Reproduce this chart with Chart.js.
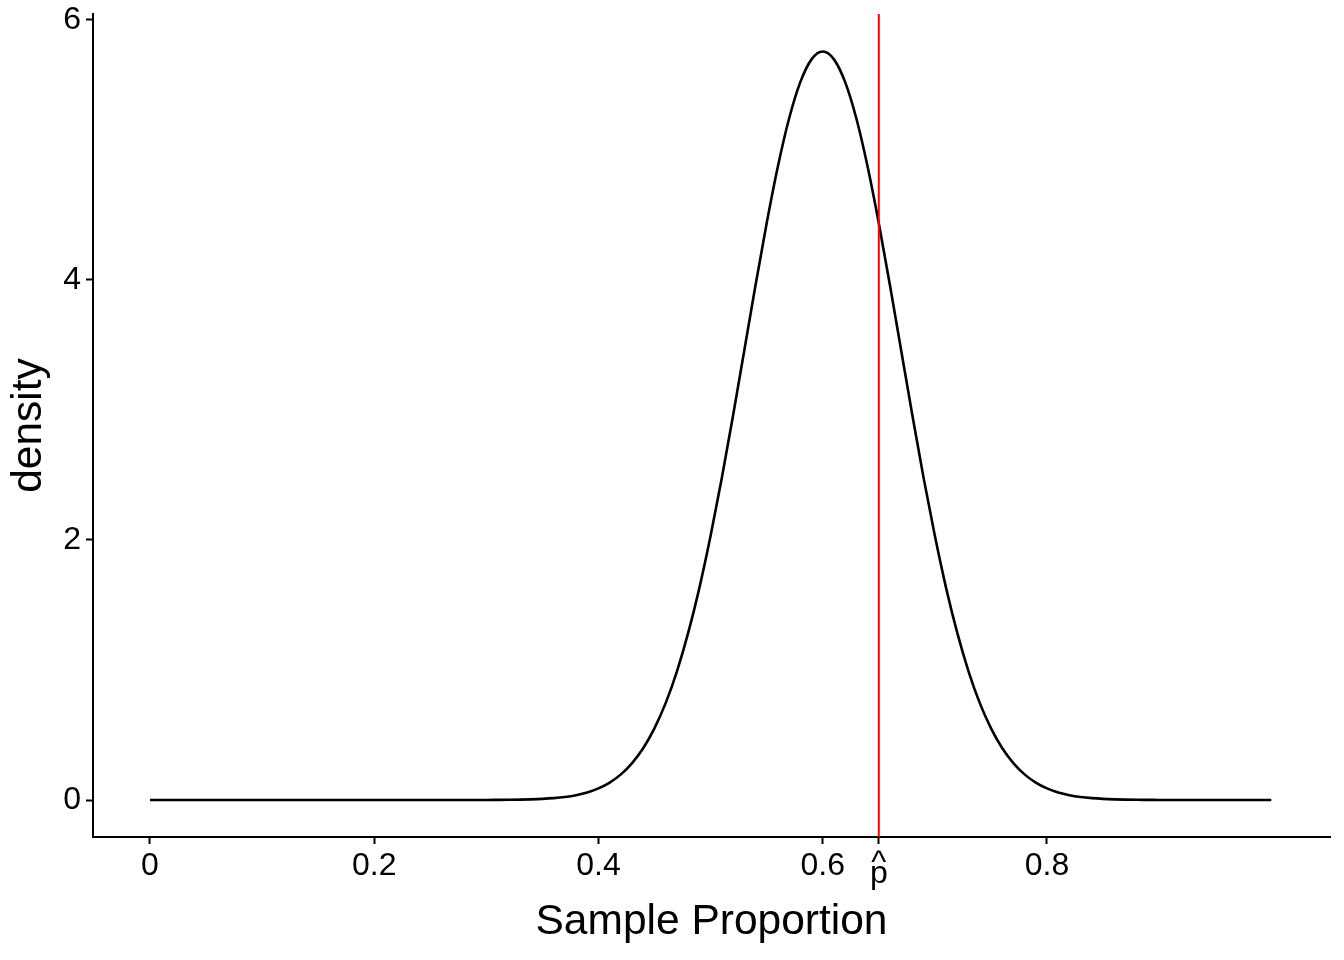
<!DOCTYPE html>
<html>
<head>
<meta charset="utf-8">
<script src="https://cdn.jsdelivr.net/npm/chart.js@4.4.1/dist/chart.umd.min.js"></script>
<style>
  html, body { margin: 0; padding: 0; background: #fff; }
  #wrap { width: 1344px; height: 960px; }
</style>
</head>
<body>
<div id="wrap"><canvas id="chart" width="1344" height="960"></canvas></div>
<script>
// sample proportion grid and density
const propX = [0, 0.1, 0.2, 0.25,
  0.30, 0.31, 0.32, 0.33, 0.34, 0.35, 0.36, 0.37, 0.38, 0.39,
  0.40, 0.41, 0.42, 0.43, 0.44, 0.45, 0.46, 0.47, 0.48, 0.49,
  0.50, 0.51, 0.52, 0.53, 0.54, 0.55, 0.56, 0.57, 0.58, 0.59,
  0.60, 0.61, 0.62, 0.63, 0.64, 0.65, 0.66, 0.67, 0.68, 0.69,
  0.70, 0.71, 0.72, 0.73, 0.74, 0.75, 0.76, 0.77, 0.78, 0.79,
  0.80, 0.81, 0.82, 0.83, 0.84, 0.85, 0.86, 0.87, 0.88, 0.89,
  0.90, 0.95, 1.0];
const densityY = [0, 0, 0, 0,
  0.0004, 0.0009, 0.0016, 0.0029, 0.0050, 0.0086, 0.0143, 0.0233, 0.0372, 0.058,
  0.089, 0.134, 0.197, 0.284, 0.400, 0.553, 0.747, 0.990, 1.285, 1.632,
  2.032, 2.476, 2.956, 3.456, 3.957, 4.437, 4.873, 5.242, 5.522, 5.697,
  5.757, 5.697, 5.522, 5.242, 4.873, 4.437, 3.957, 3.456, 2.956, 2.476,
  2.032, 1.632, 1.285, 0.990, 0.747, 0.553, 0.400, 0.284, 0.197, 0.134,
  0.089, 0.058, 0.0372, 0.0233, 0.0143, 0.0086, 0.0050, 0.0029, 0.0016, 0.0009,
  0.0004, 0, 0];

const pHat = 0.65;
const xTicks = [0, 0.2, 0.4, 0.6, 0.65, 0.8];
const xTickLabels = ['0', '0.2', '0.4', '0.6', ['', '^', 'p'], '0.8'];
const yTicks = [0, 2, 4, 6];
const yTickLabels = ['0', '2', '4', '6'];

const xMin = -0.0508, xMax = 1.0524;
const yMin = -0.2846, yMax = 6.046;

const FONT = '"Liberation Sans", Arial, Helvetica, sans-serif';

const curve = propX.map((x, i) => ({x: x, y: densityY[i]}));
const vline = [{x: pHat, y: yMin}, {x: pHat, y: yMax}];

new Chart(document.getElementById('chart').getContext('2d'), {
  type: 'line',
  data: {
    datasets: [
      {
        data: vline,
        borderColor: '#ff0000',
        borderWidth: 2,
        pointRadius: 0,
        order: 0
      },
      {
        data: curve,
        borderColor: '#000000',
        borderWidth: 2.6,
        pointRadius: 0,
        cubicInterpolationMode: 'monotone',
        order: 1
      }
    ]
  },
  options: {
    responsive: false,
    animation: false,
    layout: { padding: { top: 14, right: 14, left: 0, bottom: 0 } },
    plugins: { legend: { display: false }, tooltip: { enabled: false } },
    scales: {
      x: {
        type: 'linear',
        min: xMin,
        max: xMax,
        afterBuildTicks: s => { s.ticks = xTicks.map(v => ({value: v})); },
        afterFit: s => { s.height = 960 - 837; s.paddingLeft = 0; s.paddingRight = 0; },
        grid: { display: true, drawOnChartArea: false, drawTicks: true, tickLength: 7, tickWidth: 2, tickColor: '#000' },
        border: { display: true, color: '#000', width: 2 },
        ticks: {
          autoSkip: false,
          maxRotation: 0,
          padding: 3,
          color: '#000',
          // the hat label is stacked in three tight lines to sit like ggplot's hat(p)
          font: ctx => (ctx.tick && ctx.tick.value === pHat)
            ? {family: FONT, size: 32, lineHeight: 0.34}
            : {family: FONT, size: 32, lineHeight: 1.2},
          callback: (v, i) => xTickLabels[i]
        },
        title: {
          display: true,
          text: 'Sample Proportion',
          color: '#000',
          font: {family: FONT, size: 42.5, lineHeight: 1.2},
          padding: {top: 0, bottom: 12}
        }
      },
      y: {
        min: yMin,
        max: yMax,
        afterBuildTicks: s => { s.ticks = yTicks.map(v => ({value: v})); },
        afterFit: s => { s.width = 93; s.paddingTop = 0; s.paddingBottom = 0; },
        grid: { display: true, drawOnChartArea: false, drawTicks: true, tickLength: 7, tickWidth: 2, tickColor: '#000' },
        border: { display: true, color: '#000', width: 2 },
        ticks: {
          padding: 5,
          color: '#000',
          font: {family: FONT, size: 32, lineHeight: 1.2},
          callback: (v, i) => yTickLabels[i]
        },
        title: {
          display: true,
          text: 'density',
          color: '#000',
          font: {family: FONT, size: 42.5, lineHeight: 1.2},
          padding: {top: 4, bottom: 0}
        }
      }
    }
  }
});
</script>
</body>
</html>
